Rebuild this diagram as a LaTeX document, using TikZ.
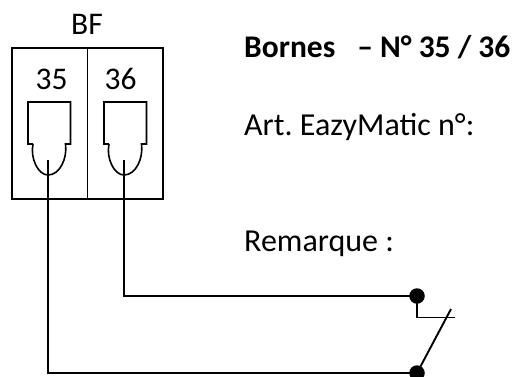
\documentclass[tikz,border=0pt]{standalone}
\usepackage{fontspec}
\setmainfont{Carlito}
\usetikzlibrary{positioning}
\tikzset{
	frame/.style={draw, line width=1.7pt, minimum width=151pt, minimum height=151pt, inner sep=0pt},
	plug/.style={line width=1.6pt},
	wire/.style={line width=1.9pt},
	dot/.style={circle, fill=black, minimum size=15.5pt, inner sep=0pt},
	label/.style={font=\fontsize{32}{34}\selectfont\frenchspacing, inner sep=0pt, anchor=base west},
	num/.style={font=\fontsize{31.5}{34}\selectfont, inner sep=0pt, anchor=base}
}
\begin{document}
\begin{tikzpicture}[x=1pt, y=-1pt]
		\useasboundingbox (0,0) rectangle (514,376);
		
		\node (bf) [frame] at (87.3,123.7) {};
		\draw[line width=0.8pt] (bf.north) -- (bf.south);
		\node (title) [num] at (87,34.5) {BF};
		\node (n35) [num] at (51.5,89) {35};
		\node (n36) [num] at (120.5,89) {36};
		
		\node (bornes) [label, font=\fontsize{31.5}{34}\selectfont\bfseries] at (244,57) {Bornes\hspace{22pt}– N° 35 / 36};
		\node (art) [label] at (244,135.5) {Art. EazyMatic n°:};
		\node (remarque) [label] at (244,251.5) {Remarque :};
		
		\draw[plug] (33,144) -- (28,144) -- (28,102) -- (70.5,102) -- (70.5,144) -- (65.5,144)
			.. controls (67.5,158) and (60,175) .. (48,175) .. controls (38,175) and (30,158) .. (33,144);
		\draw[plug] (109,144) -- (104,144) -- (104,102) -- (146.5,102) -- (146.5,144) -- (141.5,144)
			.. controls (143.5,158) and (136,175) .. (124,175) .. controls (114,175) and (106,158) .. (109,144);
		
		\coordinate (pin35) at (48,160);
		\coordinate (pin36) at (124,160);
		\node (dot36) [dot] at (417,296) {};
		\node (dot35) [dot] at (417,373) {};
		\coordinate (contact) at (455,317.5);
		\coordinate (lever) at (451,309);
		
		\draw[wire] (pin36) |- (dot36.center);
		\draw[wire] (pin35) |- (dot35.center);
		\draw[wire] (dot36.center) |- (contact);
		\draw[wire] (dot35.center) -- (lever);
	\end{tikzpicture}
\end{document}
